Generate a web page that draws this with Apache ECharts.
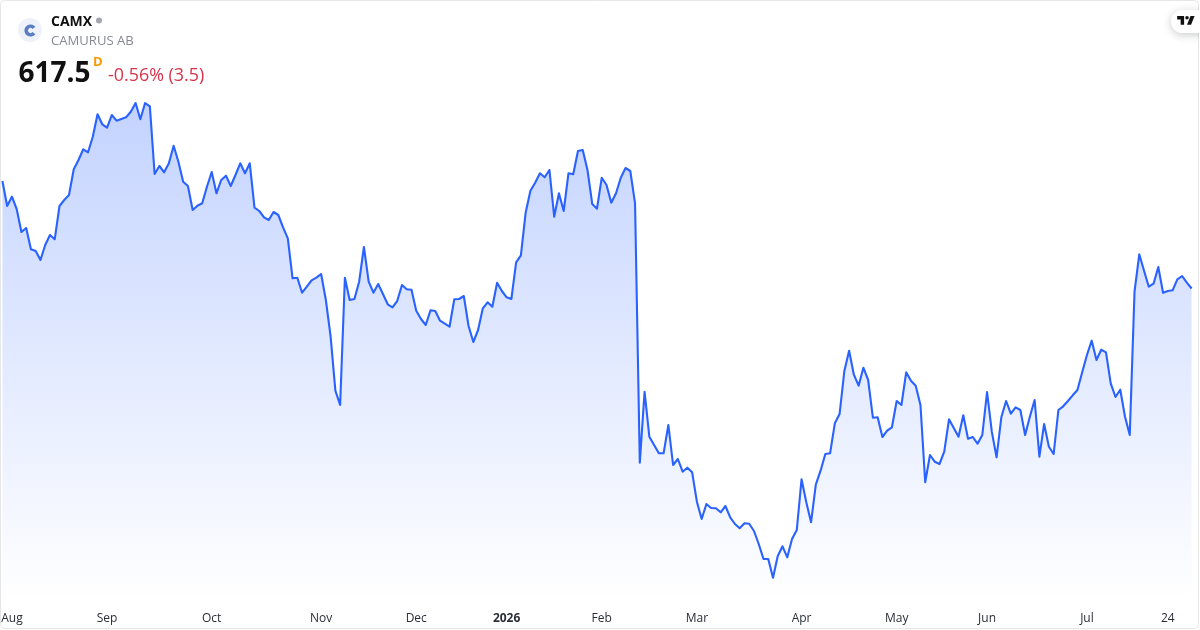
<!DOCTYPE html>
<html>
<head>
<meta charset="utf-8">
<style>html,body{margin:0;padding:0;background:#fff}#c{width:1200px;height:630px}</style>
<script src="https://cdn.jsdelivr.net/npm/echarts@6/dist/echarts.min.js"></script>
</head>
<body>
<div id="c"></div>
<script>
const prices = [
725,700,709.3,697,674,678,656.7,655,646,661,671,666.7,700,706,711,736.7,746,756.7,753.7,769.3,
791.7,781.7,778.3,791,785.3,787,788.7,794.3,803,786.7,803,799.7,732,740,733.7,742.7,760.3,744.3,724.3,720,
696,700.3,702.7,719.3,734,712.7,726,730.3,720,731,742.7,732.7,742.7,698.3,695,688.7,686,694,691,678.7,
667.7,627.7,628.3,613.3,619.3,625.7,628.3,632,606,569.3,515.3,501,628.3,606,607,624.3,659,624.3,613.3,622,
612,601.7,598.7,605,621,616.7,616.3,595.3,587,581,595.7,595,585.3,582.3,579.3,606.7,607,610,580,564,
576,597.7,603.7,599.3,623.3,615,608.7,607,643.7,650.7,693.3,715.3,723.3,732.7,728.7,736,689.3,712.7,695,732.7,
731.7,755,756,736,702,697.3,728.3,721,703.3,712.7,728.3,738,735,702.7,443.3,514.3,469.3,461,452.7,452.7,
481,441,447,434.3,438.3,433.7,404.3,387,402,398,397.7,393.7,400,388.7,382,377.7,382.7,382.3,375,362,
347,347,328.3,350,359.7,348.7,367,376,426.7,403.7,383.7,421.3,435.3,452,452.7,482.7,492,535,555.3,531.3,
520.3,538.3,526,488.3,488.7,469,475.3,478.7,505,501,533.7,525.3,520.3,501,423.7,451,444.3,442,454.3,486.7,
478,469.3,490.7,467.3,469,462.3,471,514,474.3,448.7,488.7,505,492.3,498.7,496,471,489.3,506,449.3,482,
459.3,452,496,499.7,505,510.7,516,533.7,551,565.3,546,556.3,553.7,522.7,509,516.3,489.3,471,614.3,651.7,
635.3,619.3,622.3,639,613.3,615,615.7,626.7,630,623.3,617.5
];
const tickLabels = ['Aug','Sep','Oct','Nov','Dec','2026','Feb','Mar','Apr','May','Jun','Jul','24'];
const tickSessions = [2,22,44,67,87,106,126,146,168,188,207,228,245];
const categories = prices.map((_, i) => {
  const k = tickSessions.indexOf(i);
  return k >= 0 ? tickLabels[k] : '';
});
const ticker = 'CAMX';
const company = 'CAMURUS AB';
const lastPrice = '617.5';
const change = '-0.56% (3.5)';
const font = '"Open Sans", sans-serif';

const chart = echarts.init(document.getElementById('c'), null, {renderer: 'canvas'});
chart.setOption({
  animation: false,
  backgroundColor: '#ffffff',
  grid: {left: 2.4, right: 8.4, top: 0, bottom: 29, containLabel: false, outerBoundsMode: 'none'},
  xAxis: {
    type: 'category',
    data: categories,
    boundaryGap: false,
    axisLine: {show: false},
    axisTick: {show: false},
    splitLine: {show: false},
    axisLabel: {
      interval: (i, v) => v !== '',
      margin: 12,
      fontFamily: font,
      fontSize: 12,
      color: '#2a2e39',
      hideOverlap: false,
      formatter: v => v === '2026' ? '{b|2026}' : v,
      rich: {b: {fontFamily: font, fontSize: 12, fontWeight: 'bold', color: '#2a2e39'}}
    }
  },
  yAxis: {
    type: 'value',
    min: 305,
    max: 906,
    show: false,
    splitLine: {show: false}
  },
  series: [{
    type: 'line',
    data: prices,
    showSymbol: false,
    symbol: 'none',
    smooth: false,
    lineStyle: {color: '#2962ff', width: 2.1, join: 'round'},
    areaStyle: {
      origin: 'start',
      opacity: 1,
      color: new echarts.graphic.LinearGradient(0, 0, 0, 1, [
        {offset: 0, color: 'rgba(41,98,255,0.28)'},
        {offset: 1, color: 'rgba(41,98,255,0)'}
      ])
    }
  }],
  graphic: [
    {type: 'rect', silent: true, z: 20, shape: {x: 0.5, y: 0.5, width: 1198, height: 628, r: 4},
      style: {fill: 'none', stroke: '#e6e6e6', lineWidth: 1}},
    {type: 'circle', z: 21, shape: {cx: 30, cy: 30, r: 12}, style: {fill: '#eef1f9'}},
    {type: 'arc', z: 22, shape: {cx: 30.5, cy: 30.5, r: 4.3, startAngle: 0.65, endAngle: -0.65, clockwise: true},
      style: {stroke: '#5a7cc0', lineWidth: 3.6, fill: 'none'}},
    {type: 'text', z: 22, x: 51, y: 22, style: {text: ticker, font: '700 14px ' + font, fill: '#111111', verticalAlign: 'middle'}},
    {type: 'circle', z: 22, shape: {cx: 99, cy: 20.5, r: 3}, style: {fill: '#a3a6af'}},
    {type: 'text', z: 22, x: 51, y: 41.5, style: {text: company, font: '400 13.1px ' + font, fill: '#868993', verticalAlign: 'middle'}},
    {type: 'text', z: 22, x: 18.5, y: 74, style: {text: lastPrice, font: '700 28px ' + font, fill: '#111111', verticalAlign: 'middle'}},
    {type: 'text', z: 22, x: 93, y: 62, style: {text: 'D', font: '700 13px ' + font, fill: '#ff9800', verticalAlign: 'middle'}},
    {type: 'text', z: 22, x: 108, y: 75.5, style: {text: change, font: '400 17.9px ' + font, fill: '#d8334a', verticalAlign: 'middle'}},
    {type: 'rect', z: 22, shape: {x: 1171, y: 10, width: 40, height: 23, r: 11.5},
      style: {fill: '#ffffff', shadowBlur: 8, shadowColor: 'rgba(19,23,34,0.22)', shadowOffsetY: 2}},
    {type: 'group', z: 23, x: 1176, y: 12.6, scaleX: 0.58, scaleY: 0.58, children: [
      {type: 'polygon', z: 23, shape: {points: [[2,6],[14,6],[14,21],[8,21],[8,12],[2,12]]}, style: {fill: '#111111'}},
      {type: 'polygon', z: 23, shape: {points: [[26,21],[19,21],[25,6],[32,6]]}, style: {fill: '#111111'}},
      {type: 'circle', z: 23, shape: {cx: 19, cy: 9, r: 3}, style: {fill: '#111111'}}
    ]},
    {type: 'rect', z: 24, silent: true, shape: {x: 1199, y: 0, width: 1, height: 630}, style: {fill: '#ffffff'}}
  ]
});
</script>
</body>
</html>
